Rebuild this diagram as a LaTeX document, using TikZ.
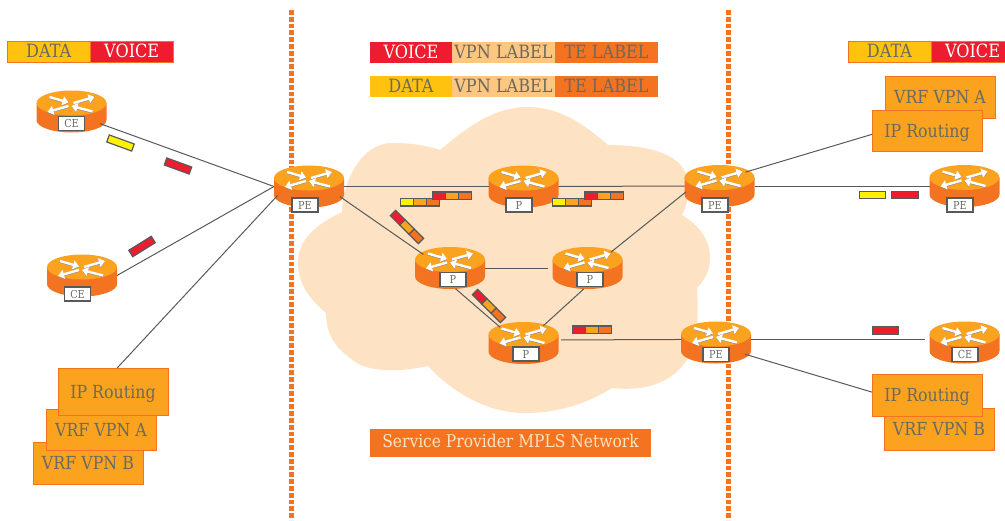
\documentclass[tikz,border=0pt]{standalone}
\usepackage{xcolor}
\usepackage{fontspec}
\setmainfont{DejaVu Serif}[FakeStretch=0.88]
\usetikzlibrary{positioning,shapes.geometric,arrows.meta}
\definecolor{mplsorange}{HTML}{F47321}
\definecolor{amberbox}{HTML}{FBA31F}
\definecolor{datagold}{HTML}{FFC20E}
\definecolor{voicered}{HTML}{ED1C2E}
\definecolor{vpnpeach}{HTML}{FDC681}
\definecolor{cloudpeach}{HTML}{FEE2C4}
\definecolor{pktyellow}{HTML}{FFF200}
\definecolor{linegrey}{HTML}{58595B}
\definecolor{textgrey}{HTML}{6A6A60}
\tikzset{
	link/.style={draw=linegrey, line width=1pt},
	divider/.style={draw=mplsorange, line width=4.8pt, dash pattern=on 4.7pt off 2.1pt},
	routerbase/.style={ellipse, inner sep=0pt, outer sep=0pt, minimum width=70pt, minimum height=42pt},
	routertag/.style={draw=linegrey, line width=1.1pt, fill=white, text=textgrey, font=\fontsize{11}{12}\selectfont, inner sep=0pt, minimum width=26pt, minimum height=14pt},
	routerarrow/.style={line width=2.4pt, -{Triangle[width=9pt,length=6pt]}},
	seg/.style={inner sep=0pt, outer sep=0pt, minimum height=21pt, text=textgrey, text height=11pt, text depth=0pt, font=\fontsize{18.3}{19}\selectfont},
	legendseg/.style={seg, draw=mplsorange, line width=0.8pt, minimum width=83pt},
	vrfbox/.style={draw=mplsorange, line width=1pt, fill=amberbox, text=textgrey, inner sep=0pt, outer sep=0pt, minimum width=110pt, minimum height=42pt, text height=13pt, text depth=0pt, font=\fontsize{18}{19}\selectfont},
	pktcell/.style={draw=linegrey, line width=1.2pt, inner sep=0pt, minimum width=13.2pt, minimum height=7.5pt, transform shape},
	pktsingle/.style={pktcell, minimum width=26.5pt}
}
\newcommand{\router}[4]{%
	\node[routerbase] (#1) at (#2) {};
	\begin{scope}[shift={(#2)}]
		\fill[mplsorange] (-35,-8.5) -- (-35,8.5) arc[start angle=180, end angle=360, x radius=35pt, y radius=12.5pt] -- (35,-8.5) -- cycle;
		\fill[amberbox] (0,-8.5) ellipse[x radius=35pt, y radius=12.5pt];
		\foreach \tx/\ty/\hx/\hy in {-22/-14.5/-3/-9, 2/-8.5/23/-14.5, -3/-5.5/-24/0.5, 21/0/0/-5.5}{
			\draw[routerarrow, linegrey!70] (\tx,\ty+0.6) -- (\hx,\hy+0.6);
			\draw[routerarrow, white] (\tx,\ty) -- (\hx,\hy);
		}
	\end{scope}
	\node[routertag] (#1tag) at (#3) {#4};
}
\newcommand{\packet}[4]{%
	\begin{scope}[shift={(#2)}, rotate=#3]
		\foreach \c [count=\i] in {#4}
			\node[pktcell, fill=\c] (#1\i) at ({(\i-2)*13.2},0) {};
	\end{scope}
}
\begin{document}
\begin{tikzpicture}[x=1pt, y=-1pt]
	\useasboundingbox (0,0) rectangle (1005,520);
	% cloud
	\fill[cloudpeach] (440,150) .. controls (470,125) and (495,107) .. (528,107) .. controls (560,107) and (585,125) .. (608,145)
		.. controls (650,145) and (685,155) .. (687,180) .. controls (690,195) and (687,205) .. (682,215)
		.. controls (700,226) and (710,240) .. (710,258) .. controls (710,270) and (705,280) .. (697,288)
		.. controls (699,320) and (697,345) .. (688,358) .. controls (675,380) and (650,392) .. (612,388)
		.. controls (585,405) and (555,413) .. (525,413) .. controls (485,413) and (450,390) .. (428,366)
		.. controls (395,373) and (365,372) .. (350,358) .. controls (332,345) and (326,330) .. (326,313)
		.. controls (305,295) and (298,280) .. (298,263) .. controls (298,240) and (315,225) .. (342,212)
		.. controls (342,185) and (360,143) .. (392,143) .. controls (410,143) and (425,145) .. (440,150) -- cycle;
	\draw[divider] (291.5,10) -- (291.5,520);
	\draw[divider] (728.7,10) -- (728.7,520);
	% legends
	\node[legendseg, fill=datagold] (dataL) at (48.7,52.2) {DATA};
	\node[legendseg, fill=voicered, text=white, right=0pt of dataL] (voiceL) {VOICE};
	\node[legendseg, fill=datagold] (dataR) at (889.5,52.2) {DATA};
	\node[legendseg, fill=voicered, text=white, right=0pt of dataR] (voiceR) {VOICE};
	\node[seg, fill=voicered, text=white, minimum width=82pt] (voiceM) at (411,52.5) {VOICE};
	\node[seg, fill=vpnpeach, minimum width=103pt, right=0pt of voiceM] (vpnA) {VPN LABEL};
	\node[seg, fill=mplsorange, minimum width=103pt, right=0pt of vpnA] (teA) {TE LABEL};
	\node[seg, fill=datagold, minimum width=82pt] (dataM) at (411,86.5) {DATA};
	\node[seg, fill=vpnpeach, minimum width=103pt, right=0pt of dataM] (vpnB) {VPN LABEL};
	\node[seg, fill=mplsorange, minimum width=103pt, right=0pt of vpnB] (teB) {TE LABEL};
	\node[seg, fill=mplsorange, text=cloudpeach, minimum width=281pt, minimum height=28pt, text height=8.5pt, font=\fontsize{17.6}{19}\selectfont] (spnet) at (510.5,443) {Service Provider MPLS Network};
	% routers
	\router{ceA}{71.5,111.5}{71.5,123.5}{CE}
	\router{ceB}{82,275.5}{77.5,294}{CE}
	\router{peA}{309,186.5}{305,205}{PE}
	\router{pTop}{523.5,186.5}{519,205}{P}
	\router{pLeft}{450,268}{453,279.5}{P}
	\router{pRight}{587.5,268}{590,279.5}{P}
	\router{pLow}{523.5,343}{526,354}{P}
	\router{peB}{719.5,186}{715,205}{PE}
	\router{peC}{964.5,186}{960,205}{PE}
	\router{peD}{716,342.5}{716,354.5}{PE}
	\router{ceC}{964.5,342.5}{965,354.5}{CE}
	% vrf stacks
	\node[vrfbox, minimum height=42pt] (vrfBL) at (88,463) {VRF VPN B};
	\node[vrfbox, minimum height=41pt] (vrfAL) at (101,429.5) {VRF VPN A};
	\node[vrfbox, minimum height=47pt] (ipL) at (113,391.5) {IP Routing};
	\node[vrfbox] (vrfAR) at (940,97) {VRF VPN A};
	\node[vrfbox, minimum height=41pt] (ipR) at (927,130.5) {IP Routing};
	\node[vrfbox] (vrfBR) at (939,429) {VRF VPN B};
	\node[vrfbox] (ipS) at (927,395) {IP Routing};
	% links
	\draw[link] (ceA.-23) -- (peA.west);
	\draw[link] (ceB.east) -- (peA.west);
	\draw[link] (ipL.80) -- (peA.196);
	\draw[link] (peA.east) -- (pTop.west);
	\draw[link] (pTop.east) -- (peB.west);
	\draw[link] (peA.-18) -- (pLeft.153);
	\draw[link, shorten >=5pt] (pLeft.east) -- (pRight.west);
	\draw[link] (pLeft.-75) -- (pLow.146);
	\draw[link] (pRight.-100) -- (pLow.41);
	\draw[link] (pRight.34) -- (peB.190);
	\draw[link, shorten <=3pt] (pLow.5) -- (peD.175);
	\draw[link] (peB.28) -- (ipR.184);
	\draw[link] (peB.east) -- (peC.west);
	\draw[link, shorten >=5pt] (peD.5) -- (ceC.175);
	\draw[link] (peD.-22) -- (ipS.177);
	% packets
	\node[pktsingle, fill=pktyellow, rotate=-20] (pktA) at (120.5,143) {};
	\node[pktsingle, fill=voicered, rotate=-20] (pktB) at (178,166) {};
	\node[pktsingle, fill=voicered, rotate=32] (pktC) at (142,246.5) {};
	\packet{pktD}{420,202.3}{0}{pktyellow,amberbox,mplsorange}
	\packet{pktE}{452,195.8}{0}{voicered,amberbox,mplsorange}
	\packet{pktF}{572,202.3}{0}{pktyellow,amberbox,mplsorange}
	\packet{pktG}{604,195.8}{0}{voicered,amberbox,mplsorange}
	\packet{pktH}{407,227}{-45}{voicered,amberbox,mplsorange}
	\packet{pktI}{489,306}{-45}{voicered,amberbox,mplsorange}
	\packet{pktJ}{592,329.7}{0}{voicered,amberbox,mplsorange}
	\node[pktsingle, fill=pktyellow] (pktK) at (872.5,195) {};
	\node[pktsingle, fill=voicered] (pktL) at (905,195) {};
	\node[pktsingle, fill=voicered] (pktM) at (885.5,330.5) {};
\end{tikzpicture}
\end{document}
